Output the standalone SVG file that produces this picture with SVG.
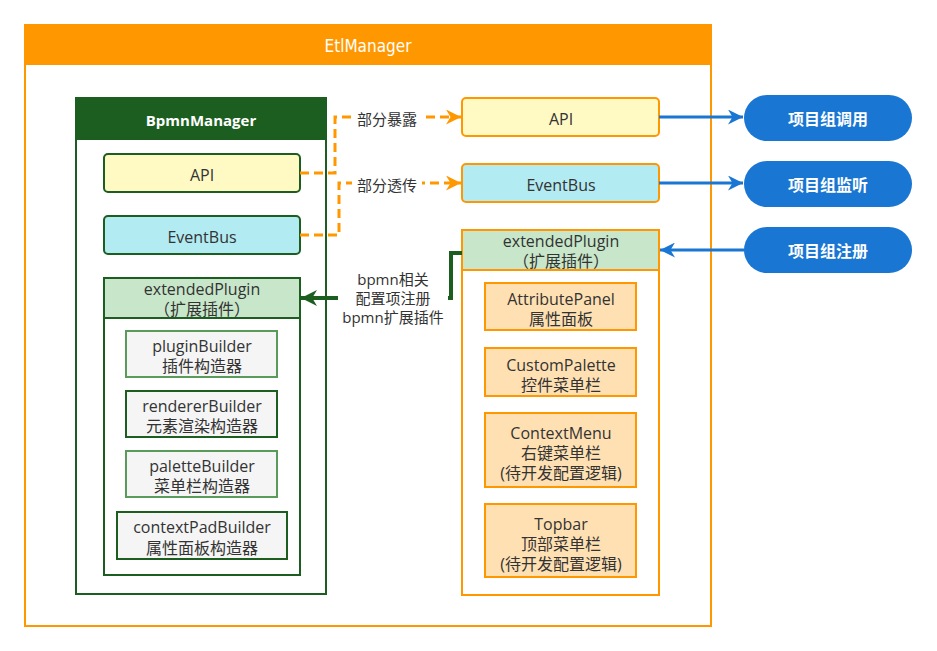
<svg xmlns="http://www.w3.org/2000/svg" width="937" height="651" viewBox="0 0 937 651">
<defs>
<style>
text{font-family:"Open Sans","Noto Sans CJK SC",sans-serif;font-size:16px;fill:#333;text-anchor:middle;dominant-baseline:central}
.w{fill:#fff}
.b{font-weight:bold}
.og{stroke:#1b5e20;stroke-width:2}
.lg{stroke:#5a9a5a;stroke-width:2}
.or{stroke:#ff9800;stroke-width:2}
.yel{fill:#fff9c4}
.cy{fill:#b2ebf2}
.gr{fill:#c8e6c9}
.gy{fill:#f5f5f5}
.pe{fill:#ffe0b2}
.pill{fill:#1976d2}
.lab{font-size:15px}
</style>
<marker id="ao" viewBox="0 0 10 10" refX="10" refY="5" markerWidth="5" markerHeight="5" markerUnits="strokeWidth" orient="auto"><path d="M0,0 L10,5 L0,10 L3,5 z" fill="#ff9800"/></marker>
<marker id="ab" viewBox="0 0 10 10" refX="10" refY="5" markerWidth="5" markerHeight="5" markerUnits="strokeWidth" orient="auto"><path d="M0,0 L10,5 L0,10 L3,5 z" fill="#1976d2"/></marker>
<marker id="ag" viewBox="0 0 10 10" refX="10" refY="5" markerWidth="5" markerHeight="4" markerUnits="strokeWidth" orient="auto"><path d="M0,0 L10,5 L0,10 L3,5 z" fill="#1b5e20"/></marker>
</defs>
<rect width="937" height="651" fill="#fff"/>

<g id="etlManager">
<rect x="25" y="25" width="686" height="601" fill="#fff" class="or"/>
<rect x="25" y="25" width="686" height="40" fill="#ff9800"/>
<text x="368" y="46" class="w" style="font-family:'DejaVu Sans Condensed','Liberation Sans Narrow',sans-serif;font-size:17px">EtlManager</text>
</g>

<g id="bpmnManager">
<rect x="76" y="98" width="250" height="496" fill="#fff" class="og"/>
<rect x="76" y="98" width="250" height="42" fill="#1b5e20"/>
<text x="201" y="120" class="w b" style="font-size:15px">BpmnManager</text>
</g>

<g id="leftApi">
<rect x="104" y="154" width="196" height="38" rx="4" class="yel og"/>
<text x="202" y="175">API</text>
</g>
<g id="leftEventBus">
<rect x="104" y="216" width="196" height="38" rx="4" class="cy og"/>
<text x="202" y="237">EventBus</text>
</g>

<g id="leftExtendedPlugin">
<rect x="104" y="278" width="196" height="297" fill="#fff" class="og"/>
<rect x="104" y="278" width="196" height="40" class="gr og"/>
<text x="202" y="289">extendedPlugin</text>
<text x="202" y="309">（扩展插件）</text>
</g>
<g id="pluginBuilder">
<rect x="126" y="331" width="151" height="46" class="gy lg"/>
<text x="202" y="346">pluginBuilder</text>
<text x="202" y="366">插件构造器</text>
</g>
<g id="rendererBuilder">
<rect x="126" y="391" width="151" height="46" class="gy og"/>
<text x="202" y="406">rendererBuilder</text>
<text x="202" y="426">元素渲染构造器</text>
</g>
<g id="paletteBuilder">
<rect x="126" y="451" width="151" height="46" class="gy lg"/>
<text x="202" y="466">paletteBuilder</text>
<text x="202" y="486">菜单栏构造器</text>
</g>
<g id="contextPadBuilder">
<rect x="117" y="512" width="170" height="47" class="gy og"/>
<text x="202" y="527">contextPadBuilder</text>
<text x="202" y="548">属性面板构造器</text>
</g>

<g id="rightApi">
<rect x="462" y="98" width="197" height="38" rx="4" class="yel or"/>
<text x="561" y="119">API</text>
</g>
<g id="rightEventBus">
<rect x="462" y="164" width="197" height="38" rx="4" class="cy or"/>
<text x="561" y="185">EventBus</text>
</g>

<g id="rightExtendedPlugin">
<rect x="462" y="230" width="197" height="365" fill="#fff" class="or"/>
<rect x="462" y="230" width="197" height="40" class="gr or"/>
<text x="561" y="241">extendedPlugin</text>
<text x="561" y="261">（扩展插件）</text>
</g>
<g id="attributePanel">
<rect x="485" y="283" width="151" height="47" class="pe or"/>
<text x="561" y="299">AttributePanel</text>
<text x="561" y="319">属性面板</text>
</g>
<g id="customPalette">
<rect x="485" y="348" width="151" height="48" class="pe or"/>
<text x="561" y="365">CustomPalette</text>
<text x="561" y="385">控件菜单栏</text>
</g>
<g id="contextMenu">
<rect x="485" y="413" width="151" height="74" class="pe or"/>
<text x="561" y="433">ContextMenu</text>
<text x="561" y="453">右键菜单栏</text>
<text x="561" y="473">(待开发配置逻辑)</text>
</g>
<g id="topbar">
<rect x="485" y="504" width="151" height="73" class="pe or"/>
<text x="561" y="524">Topbar</text>
<text x="561" y="544">顶部菜单栏</text>
<text x="561" y="564">(待开发配置逻辑)</text>
</g>

<g id="pillCall">
<rect x="744" y="95" width="168" height="46" rx="23" class="pill"/>
<text x="828" y="119" class="w b">项目组调用</text>
</g>
<g id="pillListen">
<rect x="744" y="161" width="168" height="46" rx="23" class="pill"/>
<text x="828" y="185" class="w b">项目组监听</text>
</g>
<g id="pillRegister">
<rect x="744" y="227" width="168" height="46" rx="23" class="pill"/>
<text x="828" y="251" class="w b">项目组注册</text>
</g>

<g id="connectors" fill="none">
<path d="M300,173 H335 V117 H461" stroke="#ff9800" stroke-width="3" stroke-dasharray="9,5" marker-end="url(#ao)"/>
<path d="M300,235 H339 V183 H461" stroke="#ff9800" stroke-width="3" stroke-dasharray="9,5" marker-end="url(#ao)"/>
<path d="M659,117 H743" stroke="#1976d2" stroke-width="3" marker-end="url(#ab)"/>
<path d="M659,183 H743" stroke="#1976d2" stroke-width="3" marker-end="url(#ab)"/>
<path d="M744,250 H660" stroke="#1976d2" stroke-width="3" marker-end="url(#ab)"/>
<path d="M462,253 H451 V298 H301" stroke="#1b5e20" stroke-width="4" marker-end="url(#ag)"/>
<rect x="352" y="108" width="70" height="22" fill="#fff"/>
<text x="387" y="119" class="lab">部分暴露</text>
<rect x="352" y="174" width="70" height="22" fill="#fff"/>
<text x="387" y="185" class="lab">部分透传</text>
<rect x="338" y="268" width="110" height="60" fill="#fff"/>
<text x="393" y="279" class="lab">bpmn相关</text>
<text x="393" y="298" class="lab">配置项注册</text>
<text x="393" y="317" class="lab">bpmn扩展插件</text>
</g>
</svg>
